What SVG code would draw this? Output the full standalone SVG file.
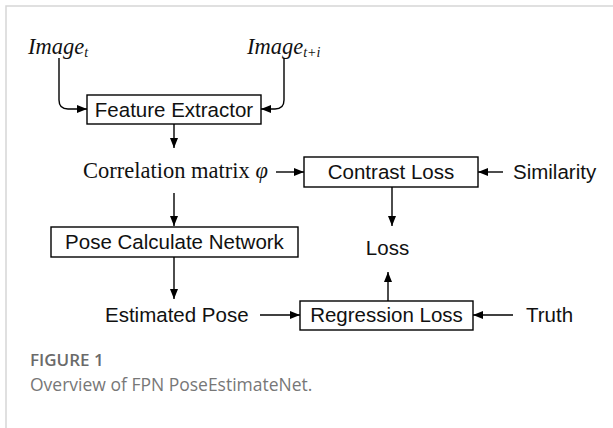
<svg xmlns="http://www.w3.org/2000/svg" width="613" height="428" viewBox="0 0 613 428">
<defs>
<marker id="ah" markerUnits="userSpaceOnUse" markerWidth="10" markerHeight="8" refX="10" refY="4" orient="auto">
<path d="M0,0 L10,4 L0,8 z" fill="#000"/>
</marker>
<style>
.box{fill:#fff;stroke:#000;stroke-width:1.4}
.lbl{font-family:"Liberation Sans",Arial,sans-serif;font-size:20.5px;fill:#111}
.ser{font-family:"Liberation Serif","Times New Roman",serif;font-size:22.5px;fill:#111}
.it{font-style:italic}
.con{fill:none;stroke:#000;stroke-width:1.4;marker-end:url(#ah)}
.frame{fill:none;stroke:#d6d6d6;stroke-width:1.5}
</style>
</defs>
<rect width="613" height="428" fill="#fff"/>
<path class="frame" d="M6,428 V6 H613"/>

<g id="image-t"><text class="ser it" x="28" y="54">Image<tspan font-size="14" dy="3">t</tspan></text></g>
<g id="image-ti"><text class="ser it" x="247" y="54">Image<tspan font-size="14" dy="3">t+i</tspan></text></g>

<g id="feature-extractor"><rect class="box" x="87" y="95" width="174" height="29"/><text class="lbl" x="174" y="117" text-anchor="middle">Feature Extractor</text></g>
<g id="correlation"><text class="ser" x="83" y="178">Correlation matrix <tspan class="it">φ</tspan></text></g>
<g id="contrast-loss"><rect class="box" x="304" y="157" width="174" height="30"/><text class="lbl" x="391" y="179" text-anchor="middle">Contrast Loss</text></g>
<g id="similarity"><text class="lbl" x="513" y="179">Similarity</text></g>
<g id="loss"><text class="lbl" x="387.5" y="255" text-anchor="middle">Loss</text></g>
<g id="pose-network"><rect class="box" x="51" y="227" width="247" height="30"/><text class="lbl" x="174.5" y="249" text-anchor="middle">Pose Calculate Network</text></g>
<g id="estimated-pose"><text class="lbl" x="105" y="322">Estimated Pose</text></g>
<g id="regression-loss"><rect class="box" x="300" y="301" width="173" height="29"/><text class="lbl" x="386.5" y="322" text-anchor="middle">Regression Loss</text></g>
<g id="truth"><text class="lbl" x="526" y="322">Truth</text></g>

<g id="connectors">
<path class="con" d="M59,58 V100 Q59,109 68,109 H87"/>
<path class="con" d="M284,58 V100 Q284,109 275,109 H261"/>
<path class="con" d="M174,124 V148"/>
<path class="con" d="M276,172 H304"/>
<path class="con" d="M503,172 H478"/>
<path class="con" d="M392,187 V226"/>
<path class="con" d="M174,193 V226"/>
<path class="con" d="M174,257 V299"/>
<path class="con" d="M260,315 H300"/>
<path class="con" d="M513,315 H473"/>
<path class="con" d="M388,301 V272"/>
</g>

<g id="caption">
<text x="30" y="366" font-family="'Open Sans','Liberation Sans',sans-serif" font-size="17" font-weight="600" fill="#6a6a6a">FIGURE 1</text>
<text x="30" y="391" font-family="'Open Sans','Liberation Sans',sans-serif" font-size="17.5" fill="#777">Overview of FPN PoseEstimateNet.</text>
</g>
</svg>
